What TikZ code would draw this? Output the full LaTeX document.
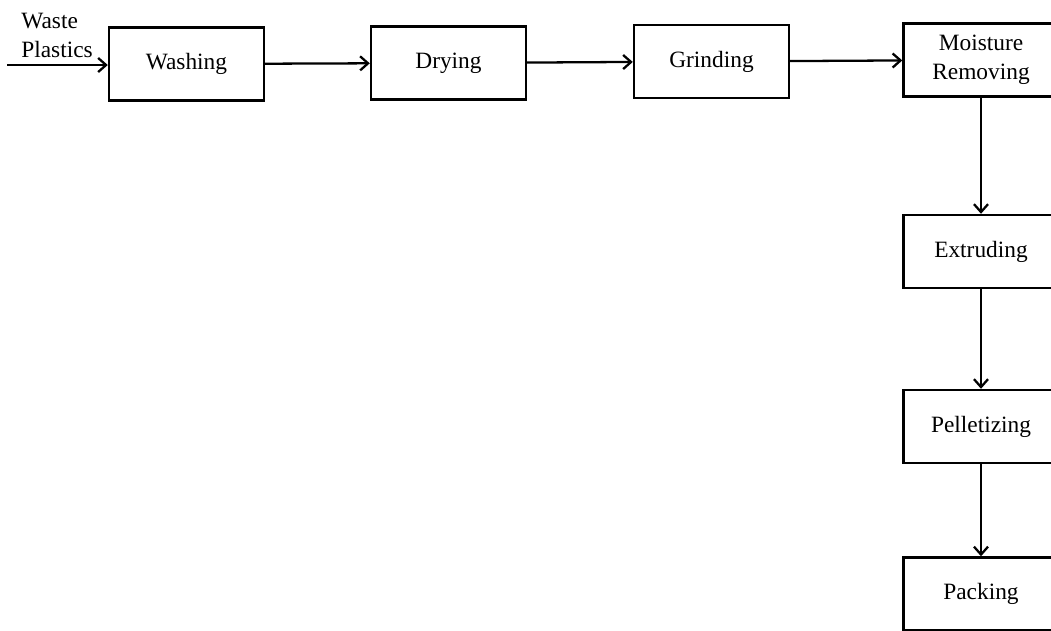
\documentclass[tikz,border=0pt]{standalone}
\usepackage{fontspec}
\setmainfont{Liberation Serif}
\usetikzlibrary{arrows.meta}
\tikzset{
  etape/.style={draw, line width=1.4pt, minimum width=3.1cm, minimum height=1.46cm,
    align=center, font=\fontsize{13.3}{16.5}\selectfont},
  fleche/.style={line width=1.3pt, -{Straight Barb[length=4.5pt,width=8pt,line width=1.3pt]}}
}
\begin{document}
\begin{tikzpicture}
  % Cadre de la figure
  \clip (0,0) rectangle (21.02,-12.6);
  % Ligne du haut
  \node[etape] (lavage) at (3.73,-1.28) {Washing};
  \node[etape] (sechage) at (8.97,-1.26) {Drying};
  \node[etape] (broyage) at (14.23,-1.23) {Grinding};
  \node[etape] (humidite) at (19.62,-1.20) {Moisture\\Removing};
  % Colonne de droite
  \node[etape] (extrusion) at (19.62,-5.03) {Extruding};
  \node[etape] (granules) at (19.62,-8.53) {Pelletizing};
  \node[etape] (emballage) at (19.62,-11.88) {Packing};
  % Entree
  \node[anchor=south west, align=left, inner sep=0pt,
    font=\fontsize{13.3}{16.5}\selectfont] (entree) at (0.42,-1.16) {Waste\\Plastics};
  \coordinate (depart) at (0.14,-1.30);
  % Fleches
  \draw[fleche] (depart) -- (depart -| lavage.west);
  \draw[fleche] (lavage) -- (sechage);
  \draw[fleche] (sechage) -- (broyage);
  \draw[fleche] (broyage) -- (humidite);
  \draw[fleche] (humidite) -- (extrusion);
  \draw[fleche] (extrusion) -- (granules);
  \draw[fleche] (granules) -- (emballage);
\end{tikzpicture}
\end{document}
